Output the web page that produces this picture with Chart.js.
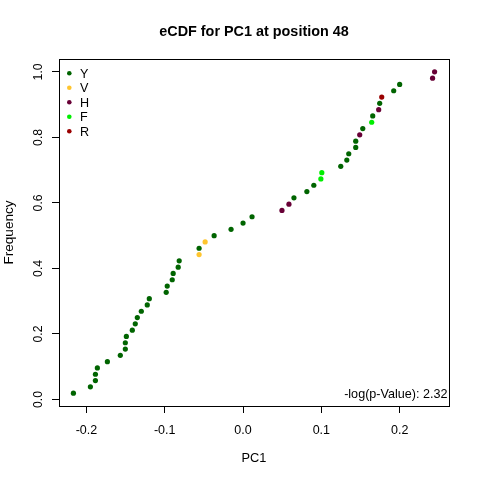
<!DOCTYPE html>
<html><head><meta charset="utf-8">
<script src="https://cdn.jsdelivr.net/npm/chart.js@4.4.1/dist/chart.umd.min.js"></script>
<style>html,body{margin:0;padding:0;background:#fff;}</style>
</head><body>
<canvas id="c" width="480" height="480" style="width:480px;height:480px;display:block"></canvas>
<script>
const pc1Values = [-0.2166,-0.1949,-0.1885,-0.1885,-0.1860,-0.1732,-0.1567,-0.1503,-0.1503,-0.1490,
  -0.1414,-0.1376,-0.1350,-0.1299,-0.1223,-0.1197,-0.0981,-0.0968,-0.0904,-0.0892,
  -0.0828,-0.0815,-0.0561,-0.0561,-0.0484,-0.0369,-0.0153,0.0000,0.0115,0.0497,
  0.0586,0.0650,0.0815,0.0904,0.0994,0.1006,0.1248,0.1325,0.1350,0.1439,
  0.1439,0.1490,0.1529,0.1643,0.1656,0.1732,0.1745,0.1771,0.1924,0.2000,
  0.2420,0.2446];
const freqValues = [0.0192,0.0385,0.0577,0.0769,0.0962,0.1154,0.1346,0.1538,0.1731,0.1923,
  0.2115,0.2308,0.2500,0.2692,0.2885,0.3077,0.3269,0.3462,0.3654,0.3846,
  0.4038,0.4231,0.4423,0.4615,0.4808,0.5000,0.5192,0.5385,0.5577,0.5769,
  0.5962,0.6154,0.6346,0.6538,0.6731,0.6923,0.7115,0.7308,0.7500,0.7692,
  0.7885,0.8077,0.8269,0.8462,0.8654,0.8846,0.9038,0.9231,0.9423,0.9615,
  0.9808,1.0000];
const pointGroups = ['Y','Y','Y','Y','Y','Y','Y','Y','Y','Y',
  'Y','Y','Y','Y','Y','Y','Y','Y','Y','Y',
  'Y','Y','V','Y','V','Y','Y','Y','Y','H',
  'H','Y','Y','Y','F','F','Y','Y','Y','Y',
  'Y','H','Y','F','Y','H','Y','R','Y','Y',
  'H','H'];
const groupNames = ['Y','V','H','F','R'];
const groupColors = ['#006400','#FFC52E','#680036','#00EE00','#9A0000'];
const xTickValues = [-0.2,-0.1,0,0.1,0.2];
const xTickLabels = ['-0.2','-0.1','0.0','0.1','0.2'];
const yTickValues = [0,0.2,0.4,0.6,0.8,1.0];
const yTickLabels = ['0.0','0.2','0.4','0.6','0.8','1.0'];
const titleText = 'eCDF for PC1 at position 48';
const xAxisTitle = 'PC1';
const yAxisTitle = 'Frequency';
const statText = '-log(p-Value): 2.32';

const FAM = '"Liberation Sans", Arial, Helvetica, sans-serif';

const datasets = groupNames.map((g, gi) => ({
  label: g,
  data: pc1Values.map((x, i) => ({x: x, y: freqValues[i], g: pointGroups[i]})).filter(p => p.g === g),
  backgroundColor: groupColors[gi],
  borderColor: groupColors[gi],
  borderWidth: 0,
  pointRadius: 2.6,
  pointHoverRadius: 2.6,
  showLine: false
}));

const decor = {
  id: 'decor',
  afterDraw(chart) {
    const ctx = chart.ctx;
    const a = chart.chartArea;
    const ys = chart.scales.y;
    ctx.save();
    ctx.strokeStyle = '#000';
    ctx.lineWidth = 1;
    ctx.strokeRect(a.left + 0.5, a.top + 0.5, a.right - a.left, a.bottom - a.top);
    ctx.fillStyle = '#000';
    // title
    ctx.font = 'bold 14.4px ' + FAM;
    ctx.textAlign = 'center';
    ctx.textBaseline = 'alphabetic';
    ctx.fillText(titleText, (a.left + a.right) / 2, 36);
    // x title
    ctx.font = '12.8px ' + FAM;
    ctx.fillText(xAxisTitle, (a.left + a.right) / 2, 461.5);
    // y tick labels rotated
    ctx.font = '12.3px ' + FAM;
    yTickValues.forEach((v, i) => {
      const py = ys.getPixelForValue(v);
      ctx.save();
      ctx.translate(42, py);
      ctx.rotate(-Math.PI / 2);
      ctx.textAlign = 'center';
      ctx.textBaseline = 'alphabetic';
      ctx.fillText(yTickLabels[i], 0, 0);
      ctx.restore();
    });
    // y title
    ctx.font = '13.6px ' + FAM;
    ctx.save();
    ctx.translate(12.5, (a.top + a.bottom) / 2);
    ctx.rotate(-Math.PI / 2);
    ctx.textAlign = 'center';
    ctx.textBaseline = 'alphabetic';
    ctx.fillText(yAxisTitle, 0, 0);
    ctx.restore();
    // legend
    ctx.font = '12.6px ' + FAM;
    groupNames.forEach((g, i) => {
      const ly = 73.3 + i * 14.5;
      ctx.beginPath();
      ctx.fillStyle = groupColors[i];
      ctx.arc(69.3, ly, 2.3, 0, Math.PI * 2);
      ctx.fill();
      ctx.fillStyle = '#000';
      ctx.textAlign = 'left';
      ctx.textBaseline = 'middle';
      ctx.fillText(g, 80, ly + 0.8);
    });
    // stat text
    ctx.font = '12.6px ' + FAM;
    ctx.textAlign = 'right';
    ctx.textBaseline = 'middle';
    ctx.fillText(statText, 447.5, 395);
    ctx.restore();
  }
};

new Chart(document.getElementById('c'), {
  type: 'scatter',
  data: {datasets: datasets},
  options: {
    responsive: false,
    animation: false,
    devicePixelRatio: 1,
    layout: {padding: {left: 0, top: 59, right: 31, bottom: 0}},
    plugins: {legend: {display: false}, tooltip: {enabled: false}, title: {display: false}},
    scales: {
      x: {
        type: 'linear', position: 'bottom', min: -0.235, max: 0.263,
        afterBuildTicks: s => { s.ticks = xTickValues.map(v => ({value: v})); },
        afterFit: s => { s.height = 74; },
        ticks: {callback: (v, i) => xTickLabels[i], color: '#000', font: {family: FAM, size: 12.5}, padding: 10.5, maxRotation: 0, minRotation: 0, autoSkip: false},
        grid: {drawOnChartArea: false, drawTicks: true, tickLength: 7, color: '#000', lineWidth: 1},
        border: {display: false}
      },
      y: {
        type: 'linear', position: 'left', min: -0.0200, max: 1.0392,
        afterBuildTicks: s => { s.ticks = yTickValues.map(v => ({value: v})); },
        afterFit: s => { s.width = 59; },
        ticks: {display: false},
        grid: {drawOnChartArea: false, drawTicks: true, tickLength: 7, color: '#000', lineWidth: 1},
        border: {display: false}
      }
    }
  },
  plugins: [decor]
});
</script>
</body></html>
